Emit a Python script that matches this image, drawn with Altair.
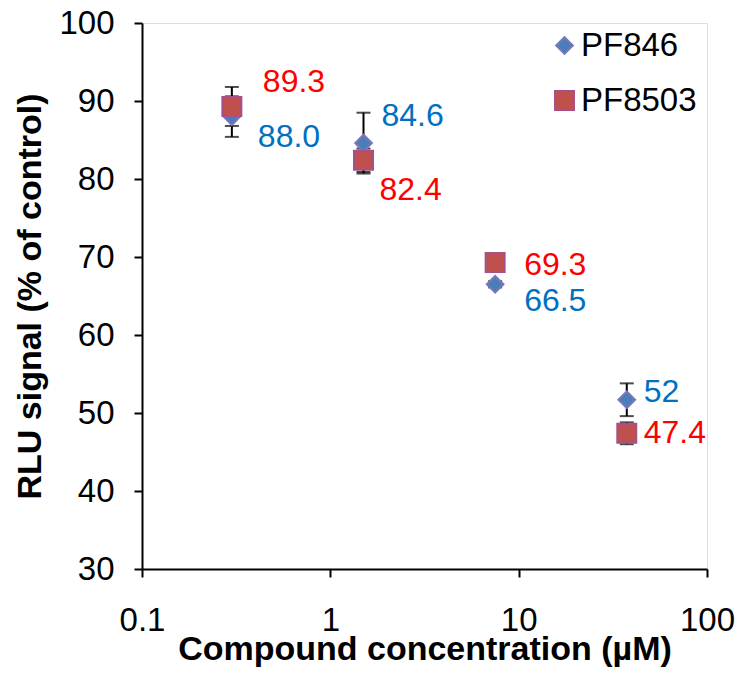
import altair as alt
import pandas as pd

# ---- data ----
conc = [0.3, 1.5, 7.5, 37.5]
pf846 = [88.0, 84.6, 66.5, 51.7]
pf846_err = [2.6, 3.9, 0.4, 2.1]
pf846_lbl = ["88.0", "84.6", "66.5", "52"]
pf8503 = [89.3, 82.4, 69.3, 47.4]
pf8503_err = [2.5, 1.5, 0.4, 1.4]
pf8503_lbl = ["89.3", "82.4", "69.3", "47.4"]
series = ["PF846", "PF8503"]
x_ticks = [0.1, 1, 10, 100]
y_ticks = [30, 40, 50, 60, 70, 80, 90, 100]

# label offsets (pixels) – layout only
off846 = [(26, 20), (18, -27), (29, 17), (17, -8)]
off8503 = [(31, -24), (16, 30), (29, 3), (17, 0)]

rows = []
for i, c in enumerate(conc):
    rows.append(dict(conc=c, val=pf846[i], lo=pf846[i] - pf846_err[i], hi=pf846[i] + pf846_err[i],
                     series="PF846", lbl=pf846_lbl[i], idx=i))
for i, c in enumerate(conc):
    rows.append(dict(conc=c, val=pf8503[i], lo=pf8503[i] - pf8503_err[i], hi=pf8503[i] + pf8503_err[i],
                     series="PF8503", lbl=pf8503_lbl[i], idx=i))
df = pd.DataFrame(rows)

FONT = "Liberation Sans"

xscale = alt.Scale(type="log", domain=[0.1, 100], nice=False)
yscale = alt.Scale(domain=[30, 100], nice=False, zero=False)

xaxis = alt.Axis(values=x_ticks, format="~g", title="Compound concentration (µM)",
                 grid=False, tickSize=8, tickWidth=2, domainWidth=2, domainColor="black",
                 tickColor="black", labelFontSize=33, labelFont=FONT, labelColor="black",
                 labelPadding=27, labelFlush=False, titleFont=FONT, titleFontSize=34,
                 titleFontWeight="bold", titleColor="black", titleY=63, titleBaseline="top")
yaxis = alt.Axis(values=y_ticks, title="RLU signal (% of control)", grid=False, tickSize=8,
                 tickWidth=2, domainWidth=2, domainColor="black", tickColor="black",
                 labelFontSize=33, labelFont=FONT, labelColor="black", labelPadding=20,
                 labelFlush=False, titleFont=FONT, titleFontSize=34, titleFontWeight="bold",
                 titleColor="black", titleX=-112, titleY=273, titleAngle=-90,
                 titleAlign="center", titleBaseline="middle")


def X():
    return alt.X("conc:Q", scale=xscale, axis=xaxis)


def Y(field):
    return alt.Y(field, type="quantitative", scale=yscale, axis=yaxis, title="RLU signal (% of control)")


base = alt.Chart(df)

err_rule = base.mark_rule(color="black", strokeWidth=2).encode(
    x=X(), y=Y("lo"), y2="hi:Q")
cap_lo = base.mark_tick(color="black", orient="horizontal", size=14, thickness=2).encode(
    x=X(), y=Y("lo"))
cap_hi = base.mark_tick(color="black", orient="horizontal", size=14, thickness=2).encode(
    x=X(), y=Y("hi"))

leg = alt.Legend(title=None, orient="none", legendX=406, legendY=6,
                 labelFont=FONT, labelFontSize=33, labelColor="black",
                 symbolStrokeWidth=2, rowPadding=21, labelOffset=0, padding=0)

points = base.mark_point(filled=True, opacity=1, strokeWidth=2, strokeOpacity=1).encode(
    x=X(), y=Y("val"),
    shape=alt.Shape("series:N", scale=alt.Scale(domain=series, range=["diamond", "square"]), legend=leg),
    fill=alt.Fill("series:N", scale=alt.Scale(domain=series, range=["#4a7ebb", "#c0504d"]), legend=leg),
    stroke=alt.Stroke("series:N", scale=alt.Scale(domain=series, range=["#7b78b8", "#a4508c"]), legend=leg),
    size=alt.Size("series:N", scale=alt.Scale(domain=series, range=[280, 360]), legend=leg),
    order=alt.Order("series:N", sort="ascending"),
)

texts = []
for i in range(len(conc)):
    for s, offs, col in (("PF846", off846, "#0070c0"), ("PF8503", off8503, "#ff0000")):
        dx, dy = offs[i]
        texts.append(
            base.transform_filter((alt.datum.series == s) & (alt.datum.idx == i))
            .mark_text(align="left", baseline="middle", dx=dx, dy=dy, font=FONT, fontSize=32, color=col)
            .encode(x=X(), y=Y("val"), text="lbl:N")
        )

chart = alt.layer(err_rule, cap_lo, cap_hi, points, *texts).properties(
    width=565, height=546,
    autosize=alt.AutoSizeParams(type="none"),
    padding={"left": 142, "top": 23, "right": 36, "bottom": 108},
).configure_view(stroke=None).configure(background="white")

chart.save("out.html", embed_options={"renderer": "svg", "actions": False})
